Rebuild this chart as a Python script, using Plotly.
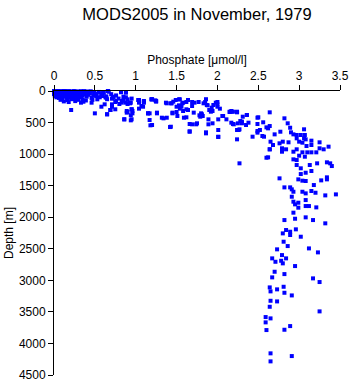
import plotly.graph_objects as go

# Phosphate profile samples (µmol/l) and their depths (m)
shallow_phosphate = [
    0.00, 0.02, 0.03, 0.05, 0.06, 0.08, 0.10, 0.12, 0.13, 0.15, 0.17, 0.18, 0.20, 0.21,
    0.23, 0.25, 0.26, 0.28, 0.30, 0.01, 0.04, 0.07, 0.09, 0.11, 0.14, 0.16, 0.19, 0.22,
    0.24, 0.27, 0.29, 0.32, 0.34, 0.36, 0.38, 0.33, 0.31, 0.02, 0.05, 0.08, 0.12, 0.15,
    0.18, 0.21, 0.25, 0.28, 0.35, 0.40, 0.42, 0.44, 0.46, 0.48, 0.39, 0.30, 0.22, 0.10,
    0.03, 0.06, 0.01, 0.00, 0.04, 0.09, 0.14, 0.19, 0.24, 0.29, 0.33, 0.37, 0.41, 0.45,
    0.49, 0.52, 0.55, 0.58, 0.61, 0.64, 0.67, 0.70, 0.73, 0.76, 0.79, 0.82, 0.85, 0.26,
    0.12, 0.18, 0.33, 0.08, 0.16, 0.36, 0.21, 0.50, 0.46, 0.52, 0.53, 0.59, 0.60, 0.66,
    0.71, 0.64, 0.62, 0.71, 0.69, 0.65, 0.76, 0.83, 0.90, 0.93, 0.88, 1.03, 0.90, 0.96,
    0.86, 0.94, 0.94, 0.75, 0.66, 0.88, 0.58, 0.63, 0.65, 0.72, 0.75, 0.71, 0.58, 0.69,
    0.65, 0.83, 0.88, 0.93, 0.85, 1.04, 1.10, 1.20, 1.25, 1.07, 0.95, 0.96, 1.17, 1.26,
    0.89, 0.07, 0.11, 0.17, 0.27, 0.35, 0.43, 0.47, 0.56,
]
shallow_depth = [
    0, 5, 12, 0, 20, 8, 15, 0, 30, 10, 22, 5, 40, 12,
    28, 3, 50, 18, 35, 25, 40, 55, 35, 48, 60, 45, 65, 58,
    70, 75, 60, 45, 25, 10, 55, 80, 95, 60, 75, 90, 85, 100,
    110, 95, 120, 105, 130, 90, 60, 30, 110, 75, 150, 140, 130, 120,
    100, 110, 80, 50, 2, 3, 1, 4, 2, 6, 3, 2, 8, 5,
    20, 40, 15, 60, 30, 85, 12, 50, 95, 70, 120, 20, 140, 160,
    165, 175, 185, 140, 145, 170, 301, 354, 185, 79, 132, 79, 16, 0,
    122, 106, 211, 249, 301, 369, 158, 185, 132, 195, 27, 143, 333, 317,
    449, 385, 465, 290, 0, 16, 52, 100, 130, 90, 174, 211, 249, 301,
    369, 158, 185, 185, 90, 143, 158, 132, 158, 238, 290, 354, 354, 354,
    317, 35, 70, 90, 115, 65, 40, 140, 100,
]

middle_phosphate = [
    0.80, 0.86, 0.95, 0.89, 0.95, 0.90, 0.94, 0.88, 1.04, 1.10, 1.15, 1.17, 1.20, 1.20,
    1.25, 1.26, 1.32, 1.38, 1.38, 1.43, 1.43, 1.45, 1.46, 1.51, 1.54, 1.56, 1.58, 1.62,
    1.64, 1.66, 1.62, 1.71, 1.72, 1.75, 1.80, 1.82, 1.83, 1.86, 1.87, 1.89, 1.92, 1.94,
    1.95, 1.98, 2.00, 2.01, 2.01, 2.06, 2.11, 2.15, 2.19, 2.17, 2.24, 2.25, 2.27, 2.30,
    2.36, 2.38, 2.24, 2.01, 1.66, 0.95, 1.04, 1.10, 1.09, 1.04, 1.19, 1.24, 1.15, 1.18,
    1.34, 1.37, 1.42, 1.44, 1.49, 1.53, 1.57, 1.53, 1.50, 1.54, 1.50, 1.45, 1.58, 1.59,
    1.64, 1.66, 1.62, 1.69, 1.69, 1.77, 1.69, 1.74, 1.78, 1.81, 1.79, 1.85, 1.88, 1.86,
    1.86, 1.89, 1.90, 1.93, 1.94, 2.00, 2.00, 2.01, 2.03, 2.07, 2.15, 2.17, 2.20, 2.24,
    2.24, 2.28,
]
middle_depth = [
    206, 449, 449, 343, 290, 206, 185, 100, 185, 185, 354, 460, 539, 132,
    169, 343, 423, 423, 195, 566, 195, 354, 169, 396, 132, 249, 185, 290,
    143, 523, 417, 343, 185, 512, 354, 396, 195, 655, 222, 528, 328, 512,
    222, 185, 249, 618, 449, 396, 449, 328, 328, 502, 328, 512, 607, 486,
    380, 502, 766, 724, 645, 120, 148, 169, 249, 280, 132, 148, 354, 544,
    433, 185, 571, 195, 143, 132, 195, 227, 249, 280, 333, 343, 317, 423,
    301, 639, 174, 174, 238, 174, 528, 528, 385, 369, 407, 174, 227, 671,
    130, 449, 301, 264, 317, 174, 211, 729, 280, 396, 333, 317, 528, 333,
    618, 476,
]

deep_phosphate = [
    2.175, 2.24, 2.36, 2.31, 2.64, 2.50, 2.82, 2.56, 2.49, 2.19, 2.30, 2.86, 2.35, 2.64,
    2.60, 2.26, 2.49, 2.57, 2.77, 2.89, 2.90, 3.06, 2.93, 2.97, 3.02, 3.07, 2.97, 3.06,
    3.08, 3.00, 3.04, 2.87, 2.80, 2.70, 2.76, 3.15, 3.25, 3.15, 3.09, 3.36, 3.25, 3.30,
    2.97, 2.79, 2.84, 2.64, 2.79, 2.93, 3.04, 3.10, 3.15, 3.21, 3.07, 3.00, 2.62, 2.93,
    2.97, 2.27, 2.97, 3.02, 3.13, 3.22, 3.34, 3.38, 3.40, 3.15, 3.08, 3.02, 3.34, 3.34,
    3.27, 2.76, 2.99, 3.04, 3.08, 3.18, 2.82, 2.89, 2.91, 2.93, 3.04, 3.08, 3.15, 3.20,
    3.32, 3.45, 2.91, 3.08, 2.93, 2.99, 2.95, 3.08, 3.12, 2.99, 3.21, 2.93, 2.82, 2.95,
    3.08, 3.17, 3.32, 2.84, 2.89, 2.80, 2.96, 2.89, 3.02, 2.81, 2.86, 2.73, 3.12, 3.23,
    2.79, 2.67, 2.84, 2.71, 2.78, 2.80, 2.95, 2.70, 2.82, 2.67, 3.17, 3.25, 2.64, 2.65,
    2.73, 2.81, 2.82, 2.91, 2.65, 2.73, 2.64, 3.25, 2.59, 2.65, 2.59, 2.89, 2.60, 2.82,
    2.65, 2.91, 2.65, 2.49, 2.43, 2.49, 2.52, 2.55, 2.62, 2.65, 2.68, 2.64, 2.60,
]
deep_depth = [
    328, 338, 380, 407, 338, 417, 433, 496, 523, 523, 512, 512, 539, 555,
    576, 618, 634, 724, 645, 582, 655, 607, 687, 697, 697, 697, 750, 750,
    766, 803, 819, 813, 803, 687, 829, 787, 813, 856, 872, 882, 908, 924,
    924, 908, 924, 924, 962, 962, 972, 972, 972, 972, 1041, 1025, 1051, 1083,
    1094, 1146, 1173, 1225, 1173, 1146, 1130, 1146, 1189, 1268, 1295, 1316, 1368, 1400,
    1416, 1384, 1400, 1421, 1426, 1490, 1527, 1527, 1558, 1596, 1596, 1622, 1585, 1612,
    1654, 1638, 1675, 1728, 1754, 1770, 1796, 1823, 1823, 1849, 1844, 1928, 2045, 2024,
    2002, 2045, 2097, 2203, 2230, 2256, 2192, 2282, 2309, 2388, 2457, 2509, 2494, 2557,
    2600, 2652, 2652, 2706, 2690, 2731, 2774, 2864, 2901, 2953, 2969, 3027, 3112, 3175,
    3143, 3102, 3197, 3239, 3324, 3334, 3419, 3492, 3582, 3603, 3666, 3725, 3788, 3783,
    4157, 4200, 4284, 423, 724, 660, 618, 713, 592, 803, 856, 924, 1057,
]

phosphate = shallow_phosphate + middle_phosphate + deep_phosphate
depth = shallow_depth + middle_depth + deep_depth

x_ticks = [0, 0.5, 1, 1.5, 2, 2.5, 3, 3.5]
x_ticklabels = ["0", "0.5", "1", "1.5", "2", "2.5", "3", "3.5"]
y_ticks = [0, 500, 1000, 1500, 2000, 2500, 3000, 3500, 4000, 4500]

font_family = "Liberation Sans, Arial, sans-serif"

fig = go.Figure(
    go.Scatter(
        x=phosphate,
        y=depth,
        mode="markers",
        marker=dict(symbol="square", size=4, color="#0000ff", line=dict(width=0)),
        cliponaxis=False,
        hoverinfo="x+y",
    )
)

fig.update_layout(
    width=350,
    height=384,
    margin=dict(l=54, r=10, t=91, b=9),
    paper_bgcolor="white",
    plot_bgcolor="white",
    showlegend=False,
    font=dict(family=font_family, size=12, color="black"),
    title=dict(
        text="MODS2005 in November, 1979",
        x=0.5,
        xref="paper",
        xanchor="center",
        y=1 - 14 / 384,
        yref="container",
        yanchor="middle",
        font=dict(family=font_family, size=16.5, color="black"),
    ),
    xaxis=dict(
        side="top",
        range=[0, 3.5],
        tickvals=x_ticks,
        ticktext=x_ticklabels,
        ticks="outside",
        ticklen=5,
        tickcolor="black",
        showline=True,
        linecolor="black",
        linewidth=1,
        showgrid=False,
        zeroline=False,
        automargin=False,
        title=dict(text="Phosphate [μmol/l]", standoff=2, font=dict(size=12)),
    ),
    yaxis=dict(
        range=[4500, 0],
        tickvals=y_ticks,
        ticks="outside",
        ticklen=5,
        tickcolor="black",
        showline=True,
        linecolor="black",
        linewidth=1,
        showgrid=False,
        zeroline=False,
        automargin=False,
        title=dict(text="Depth [m]", standoff=2, font=dict(size=12)),
    ),
)

fig.write_html("out.html")
